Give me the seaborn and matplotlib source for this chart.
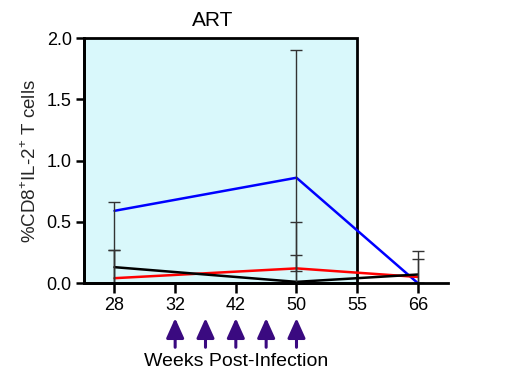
import matplotlib
matplotlib.use("Agg")
import matplotlib.pyplot as plt
import matplotlib.transforms as mtransforms
from matplotlib.patches import Rectangle
import numpy as np
import pandas as pd
import seaborn as sns

# week labels on the categorical x axis
weeks = ["28", "32", "42", "50", "55", "66"]
sampled_weeks = ["28", "50", "66"]

# group means with error bar bounds
blue_mean = [0.59, 0.86, 0.00]
blue_upper = [0.66, 1.90, 0.00]
blue_lower = [-0.10, -0.18, 0.00]

red_mean = [0.04, 0.12, 0.05]
red_upper = [0.27, 0.50, 0.20]
red_lower = [-0.05, 0.10, -0.10]

black_mean = [0.13, 0.01, 0.07]
black_upper = [0.27, 0.23, 0.26]
black_lower = [-0.01, -0.21, -0.12]

# treatment doses (arrows), in category units between ticks
dose_slots = [1, 1.5, 2, 2.5, 3]

sns.set_theme(style="white")
plt.rcParams["font.family"] = ["Liberation Sans", "DejaVu Sans"]
plt.rcParams["mathtext.fontset"] = "custom"
plt.rcParams["mathtext.rm"] = "Liberation Sans"

pos = {w: i for i, w in enumerate(weeks)}
xs = [pos[w] for w in sampled_weeks]

groups = {
    "blue": (blue_mean, blue_upper, blue_lower, "#0000ff"),
    "red": (red_mean, red_upper, red_lower, "#ff0000"),
    "black": (black_mean, black_upper, black_lower, "#000000"),
}

rows = []
for name, (mean, _, _, _) in groups.items():
    for x, v in zip(xs, mean):
        rows.append({"group": name, "x": x, "value": v})
df = pd.DataFrame(rows)

fig = plt.figure(figsize=(5.26, 3.81), dpi=100)
ax = fig.add_axes([0.16, 0.257, 0.692, 0.643])

# ART shaded window
ax.add_patch(Rectangle((-0.5, 0), 4.5, 2.0, facecolor="#d9f8fb", edgecolor="black",
                       linewidth=2, zorder=0, clip_on=False))

sns.lineplot(data=df, x="x", y="value", hue="group", estimator=None,
             palette={k: v[3] for k, v in groups.items()}, linewidth=1.8,
             legend=False, ax=ax, zorder=3)

for name, (mean, upper, lower, _) in groups.items():
    mean = np.array(mean)
    yerr = [mean - np.array(lower), np.array(upper) - mean]
    ax.errorbar(xs, mean, yerr=yerr, fmt="none", ecolor="#333333",
                elinewidth=1, capsize=4.5, capthick=1, zorder=4)

ax.set_xlim(-0.5, 5.5)
ax.set_ylim(0, 2.0)
ax.set_xticks(range(len(weeks)))
ax.set_xticklabels(weeks)
ax.set_yticks([0, 0.5, 1.0, 1.5, 2.0])
ax.set_yticklabels(["0.0", "0.5", "1.0", "1.5", "2.0"])
ax.tick_params(axis="both", which="both", direction="out", length=6, width=1.8,
               labelsize=13, color="black", labelcolor="black", pad=3,
               bottom=True, left=True)
ax.tick_params(axis="x", length=7)
ax.set_xlabel("")
ax.set_ylabel(r"%CD8$^{\mathregular{+}}$IL-2$^{\mathregular{+}}$ T cells",
              fontsize=13.5, labelpad=5)

for side in ("top", "right"):
    ax.spines[side].set_visible(False)
for side in ("left", "bottom"):
    ax.spines[side].set_linewidth(2)
    ax.spines[side].set_color("black")
    ax.spines[side].set_zorder(5)

trans = mtransforms.blended_transform_factory(ax.transData, ax.transAxes)
for d in dose_slots:
    ax.annotate("", xy=(d, -0.143), xytext=(d, -0.262), xycoords=trans,
                textcoords=trans, annotation_clip=False,
                arrowprops=dict(arrowstyle="-|>,head_length=1.0,head_width=0.45",
                                color="#3a0a80", lw=2.2, mutation_scale=12,
                                shrinkA=0, shrinkB=0))

ax.text(2, -0.322, "Weeks Post-Infection", transform=trans, ha="center",
        va="center", fontsize=14, color="black")
ax.text(1.62, 1.07, "ART", transform=trans, ha="center", va="center",
        fontsize=15, color="black")

fig.savefig("out.png", dpi=100)
